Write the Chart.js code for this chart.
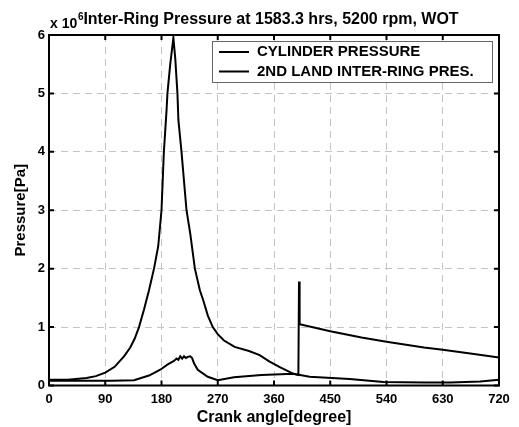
<!DOCTYPE html>
<html>
<head>
<meta charset="utf-8">
<script src="https://cdn.jsdelivr.net/npm/chart.js@4.4.1/dist/chart.umd.min.js"></script>
<style>
  html, body { margin: 0; padding: 0; background: #fff; }
  #wrap { width: 519px; height: 427px; }
</style>
</head>
<body>
<div id="wrap"><canvas id="myChart" width="519" height="427"></canvas></div>
<script>
// crank angle ticks and pressure ticks (x 10^6 Pa)
const xTicks = [0, 90, 180, 270, 360, 450, 540, 630, 720];
const yTicks = [0, 1, 2, 3, 4, 5, 6];

// cylinder pressure, x 10^6 Pa
const cylAngle = [0, 30, 60, 75, 90, 105, 120, 130, 137, 144, 152, 160, 168, 174.7, 180, 183.8, 188, 189.5, 194, 199,
    202, 205.5, 207, 212, 220, 226, 233.4, 241.4, 247, 254, 262, 270, 280, 297, 320, 337, 353, 370, 380, 391, 399,
    400, 401, 450, 500, 540, 600, 630, 680, 720];
const cylPressure = [0.1, 0.1, 0.13, 0.16, 0.22, 0.32, 0.5, 0.65, 0.8, 1.0, 1.3, 1.63, 2.0, 2.38, 3.0, 4.0, 4.7, 5.0, 5.5, 5.95,
    5.6, 5.0, 4.55, 4.0, 3.0, 2.6, 2.0, 1.63, 1.45, 1.2, 1.0, 0.88, 0.77, 0.66, 0.59, 0.52, 0.41, 0.31, 0.26, 0.2, 0.18,
    1.78, 1.05, 0.93, 0.82, 0.75, 0.65, 0.61, 0.54, 0.48];

// 2nd land inter-ring pressure, x 10^6 Pa
const ringAngle = [0, 60, 100, 136, 160, 178, 190, 200, 204, 207, 210, 213, 216, 219, 222, 226, 229, 232, 238, 254, 270,
    296, 340, 391, 417, 481, 535, 600, 642, 690, 720];
const ringPressure = [0.08, 0.08, 0.08, 0.09, 0.17, 0.27, 0.36, 0.42, 0.46, 0.44, 0.5, 0.46, 0.5, 0.47, 0.49, 0.5, 0.47, 0.38, 0.27, 0.15, 0.09,
    0.14, 0.18, 0.2, 0.15, 0.11, 0.06, 0.05, 0.05, 0.07, 0.1];

const seriesNames = ['CYLINDER PRESSURE', '2ND LAND INTER-RING PRES.'];
const FONT = '"Liberation Sans", Arial, sans-serif';

// frame, inward ticks, legend, title and exponent like a matlab figure
const matlabLook = {
    id: 'matlabLook',
    afterDatasetsDraw(chart) {
        const ctx = chart.ctx;
        const a = chart.chartArea;
        const xs = chart.scales.x, ys = chart.scales.y;
        ctx.save();
        ctx.strokeStyle = '#000';
        ctx.lineWidth = 2;
        ctx.strokeRect(a.left, a.top, a.right - a.left, a.bottom - a.top);
        ctx.beginPath();
        xTicks.forEach(v => {
            const px = xs.getPixelForValue(v);
            ctx.moveTo(px, a.bottom); ctx.lineTo(px, a.bottom - 5);
            ctx.moveTo(px, a.top); ctx.lineTo(px, a.top + 5);
        });
        yTicks.forEach(v => {
            const py = ys.getPixelForValue(v);
            ctx.moveTo(a.left, py); ctx.lineTo(a.left + 5, py);
            ctx.moveTo(a.right, py); ctx.lineTo(a.right - 5, py);
        });
        ctx.stroke();

        // legend box
        const lx = 212, ly = 41, lw = 280, lh = 41;
        ctx.fillStyle = '#fff';
        ctx.fillRect(lx, ly, lw, lh);
        ctx.lineWidth = 1;
        ctx.strokeStyle = '#666';
        ctx.strokeRect(lx + 0.5, ly + 0.5, lw, lh);
        ctx.font = 'bold 15px ' + FONT;
        ctx.textBaseline = 'middle';
        ctx.fillStyle = '#000';
        seriesNames.forEach((name, i) => {
            const y = 52 + i * 19.5;
            ctx.beginPath();
            ctx.lineWidth = 2;
            ctx.strokeStyle = '#000';
            ctx.moveTo(219, y); ctx.lineTo(249, y);
            ctx.stroke();
            ctx.fillText(name, 257, y);
        });

        // title and exponent
        ctx.textBaseline = 'alphabetic';
        ctx.font = 'bold 14px ' + FONT;
        ctx.textAlign = 'left';
        ctx.fillText('x 10', 50, 28);
        ctx.font = 'bold 10px ' + FONT;
        ctx.fillText('6', 78, 20);
        ctx.font = 'bold 16px ' + FONT;
        ctx.textAlign = 'center';
        ctx.fillText('Inter-Ring Pressure at 1583.3 hrs, 5200 rpm, WOT', 271, 24);
        ctx.restore();
    }
};

const ctx = document.getElementById('myChart').getContext('2d');

const myChart = new Chart(ctx, {
    type: 'line',
    data: {
        datasets: [{
            label: seriesNames[0],
            data: cylAngle.map((a, i) => ({ x: a, y: cylPressure[i] })),
            borderColor: '#000',
            borderWidth: 2,
            pointRadius: 0,
            tension: 0
        }, {
            label: seriesNames[1],
            data: ringAngle.map((a, i) => ({ x: a, y: ringPressure[i] })),
            borderColor: '#000',
            borderWidth: 2,
            pointRadius: 0,
            tension: 0
        }]
    },
    options: {
        responsive: false,
        animation: false,
        layout: { padding: { top: 35, left: 0, right: 20, bottom: 0 } },
        plugins: {
            legend: { display: false },
            title: { display: false },
            tooltip: { enabled: false }
        },
        scales: {
            x: {
                type: 'linear',
                min: 0,
                max: 720,
                afterFit: s => { s.height = 41.5; },
                afterBuildTicks: s => { s.ticks = xTicks.map(v => ({ value: v })); },
                grid: { color: '#c4c4c4', lineWidth: 1, drawTicks: false },
                border: { display: false, dash: [7, 5] },
                ticks: { padding: 6, color: '#000', font: { family: FONT, size: 13, weight: 'bold' }, maxRotation: 0 },
                title: { display: true, text: 'Crank angle[degree]', color: '#000',
                    font: { family: FONT, size: 16, weight: 'bold' }, padding: { top: 0, bottom: 0 } }
            },
            y: {
                min: 0,
                max: 6,
                afterFit: s => { s.width = 49; },
                afterBuildTicks: s => { s.ticks = yTicks.map(v => ({ value: v })); },
                grid: { color: '#c4c4c4', lineWidth: 1, drawTicks: false },
                border: { display: false, dash: [7, 5] },
                ticks: { padding: 4, color: '#000', font: { family: FONT, size: 13, weight: 'bold' } },
                title: { display: true, text: 'Pressure[Pa]', color: '#000',
                    font: { family: FONT, size: 15, weight: 'bold' }, padding: { top: 12, bottom: 0 } }
            }
        }
    },
    plugins: [matlabLook]
});
</script>
</body>
</html>
